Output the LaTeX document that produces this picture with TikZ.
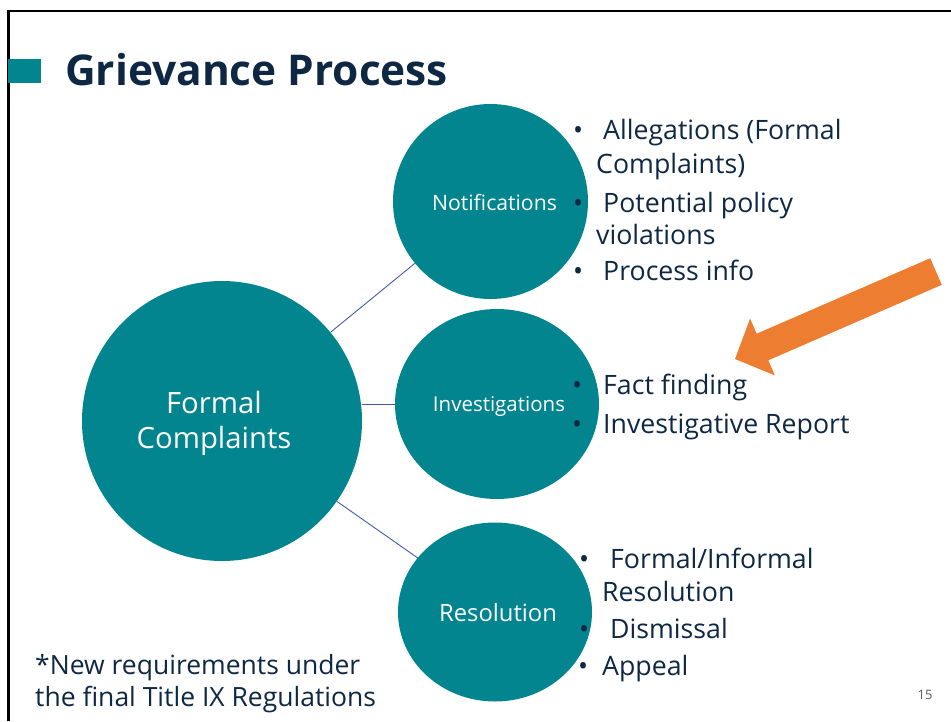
\documentclass[tikz,border=0pt]{standalone}
\usepackage{fontspec}
\setmainfont{Open Sans}
\usetikzlibrary{shapes.geometric}

\definecolor{bubbleteal}{RGB}{2,133,143}
\definecolor{navy}{RGB}{14,40,68}
\definecolor{linkblue}{RGB}{68,90,170}
\definecolor{arroworange}{RGB}{237,125,49}
\definecolor{pagegray}{RGB}{89,89,89}

\begin{document}
\begin{tikzpicture}[x=1pt, y=-1pt,
		bubble/.style={ellipse, fill=bubbleteal, inner sep=0pt},
		inside/.style={text=white, inner sep=0pt},
		txt/.style={anchor=base west, inner sep=0pt, text=navy, font=\fontsize{26.7}{32}\selectfont},
		link/.style={draw=linkblue, line width=0.9pt}]
			\useasboundingbox (0,0) rectangle (951,721);

			% slide frame and title
			\draw[line width=2.5pt] (8.7,721) -- (8.7,11.2) -- (951,11.2);
			\fill[bubbleteal] (8,59) rectangle (41,83);
			\node[anchor=base west, inner sep=0pt, text=navy, font=\bfseries\fontsize{42.4}{46}\selectfont] (title) at (65,85) {Grievance Process};

			% bubbles
			\node[bubble, minimum width=280pt, minimum height=280pt,
				label={[inside, xshift=-8pt, yshift=-2pt, align=center, font=\fontsize{29.3}{35}\selectfont]center:Formal\\Complaints}] (big) at (222,421) {};
			\node[bubble, minimum width=195pt, minimum height=195pt,
				label={[inside, xshift=4pt, yshift=-1pt, font=\fontsize{21.2}{24}\selectfont]center:Notifications}] (notif) at (490.5,201.5) {};
			\node[bubble, minimum width=204pt, minimum height=190pt,
				label={[inside, xshift=2pt, yshift=-2pt, font=\fontsize{20.5}{24}\selectfont]center:Investigations}] (inv) at (497,404) {};
			\node[bubble, minimum width=194pt, minimum height=179pt,
				label={[inside, xshift=3pt, yshift=-1pt, font=\fontsize{23.8}{27}\selectfont]center:Resolution}] (res) at (495,612) {};

			\draw[link] (big) -- (notif);
			\draw[link] (inv.west) -- (inv.west -| big.east);
			\draw[link] (big) -- (res);

			% bullet lists
			\node[txt] (al1) at (573,139) {\makebox[30pt][l]{•}Allegations (Formal};
			\node[txt] (al2) at (596,173) {Complaints)};
			\node[txt] (po1) at (573,212) {\makebox[30pt][l]{•}Potential policy};
			\node[txt] (po2) at (596,244) {violations};
			\node[txt] (pr) at (573,280) {\makebox[30pt][l]{•}Process info};

			\node[txt] (ff) at (572,394) {\makebox[31pt][l]{•}Fact finding};
			\node[txt] (ir) at (572,433) {\makebox[31pt][l]{•}Investigative Report};

			\node[txt] (fi1) at (579,568) {\makebox[31pt][l]{•}Formal/Informal};
			\node[txt] (fi2) at (602,601) {Resolution};
			\node[txt] (di) at (579,638) {\makebox[31pt][l]{•}Dismissal};
			\node[txt] (ap) at (578,675) {\makebox[24pt][l]{•}Appeal};

			% arrow pointing at the list
			\fill[arroworange] (930.2,258.2) -- (941.8,284.8) -- (768.3,360.3) -- (774.9,375.4)
				-- (735,359) -- (750.1,318.6) -- (756.7,333.7) -- cycle;

			% footnote and page number
			\node[txt, font=\fontsize{26.5}{31}\selectfont] (note1) at (35,674) {*New requirements under};
			\node[txt, font=\fontsize{26.5}{31}\selectfont] (note2) at (35,706) {the final Title IX Regulations};
			\node[anchor=base, inner sep=0pt, text=pagegray, font=\fontsize{13}{15}\selectfont] (pg) at (925,699) {15};
		\end{tikzpicture}
\end{document}
